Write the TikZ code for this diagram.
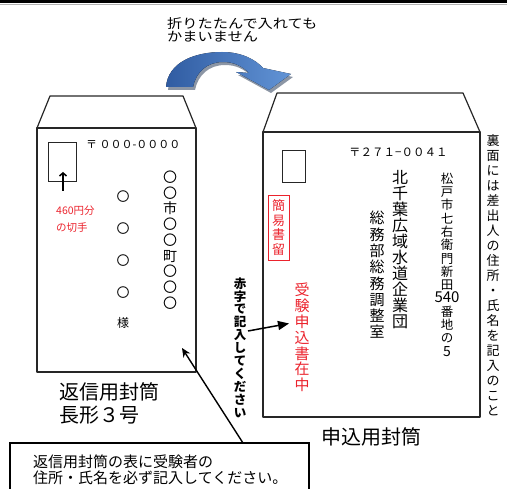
\documentclass[tikz,border=0pt]{standalone}
\usepackage{graphicx}
\usepackage{fontspec}
\setmainfont{Noto Sans CJK JP}
\usetikzlibrary{arrows.meta}
\definecolor{stampred}{RGB}{235,35,45}
\definecolor{arrowdark}{RGB}{48,92,162}
\definecolor{arrowlight}{RGB}{98,148,214}
\definecolor{shadowgrey}{RGB}{140,150,165}
\begin{document}
\begin{tikzpicture}[x=1pt,y=-1pt,
  env/.style={draw=black!85, line width=1.2pt, line join=round},
  vcol/.style={inner sep=0pt, align=center},
  lbl/.style={inner sep=0pt, anchor=west, align=left},
  foldarrow/.style={insert path={(166,87) .. controls (168,62) and (195,52) .. (222,52)
     .. controls (242,52) and (256,60) .. (263,68) -- (291,74) -- (269,90) -- (236,72) -- (249,73)
     .. controls (242,66) and (234,62) .. (223,62) .. controls (207,62) and (196,72) .. (193,87) -- cycle}},
  ]
\useasboundingbox (0,0) rectangle (507,489);
% top bar
\fill[black] (0,0) rectangle (507,3.5);
\draw[gray!60, line width=0.8pt] (0,4.3) -- (507,4.3);

% fold note and arrow
\node[lbl, font=\fontsize{13}{12.5}\selectfont] (fold) at (167,30)
  {\scalebox{1.17}[1]{折りたたんで入れても}\\\scalebox{1.17}[1]{かまいません}};
\fill[shadowgrey, shift={(2,3)}, foldarrow];
\fill[left color=arrowdark, right color=arrowlight, foldarrow];

% ---- left envelope ----
\draw[env] (37,128) -- (50,96) -- (183,96) -- (196,128);
\draw[env] (37,128) rectangle (196,372);
\draw[black!85, line width=1pt] (48,143) rectangle (76,182);
\coordinate (stampLlow) at (63,191);
\coordinate (stampLhigh) at (63,172);
\draw[line width=1.5pt, -{Straight Barb[length=3pt,width=7pt]}] (stampLlow) -- (stampLhigh);
\node[lbl, font=\fontsize{11}{11}\selectfont] (zipL) at (86,144) {〒 ０００-００００};
\node[lbl, text=stampred, font=\fontsize{10.5}{17}\selectfont] (fee) at (56,219.5) {460円分\\の切手};
\node[vcol, font=\fontsize{13}{32}\selectfont] (nameL) at (123,245) {〇\\〇\\〇\\〇};
\node[inner sep=0pt, font=\fontsize{12}{12}\selectfont] (sama) at (123,323) {様};
\node[vcol, font=\fontsize{14}{15.75}\selectfont] (addrL) at (170,240) {〇\\〇\\市\\〇\\〇\\町\\〇\\〇\\〇};
\node[lbl, font=\fontsize{20}{23}\selectfont] (labL) at (59,403) {返信用封筒\\長形３号};

% ---- right envelope ----
\draw[env] (263,132) -- (277,93) -- (463,93) -- (480,132);
\draw[env] (263,132) rectangle (480,417);
\draw[black!85, line width=1pt] (282,151) rectangle (305,183);
\node[lbl, font=\fontsize{11.5}{11.5}\selectfont] (zipR) at (349,152) {〒２７１−００４１};
\node[draw=stampred, line width=0.9pt, minimum width=21pt, minimum height=65pt, inner sep=0pt,
      text=stampred, align=center, font=\fontsize{13}{14.5}\selectfont] (kani) at (278.5,227.5) {簡\\易\\書\\留};
\node[vcol, font=\fontsize{12.5}{13.3}\selectfont] (addrR) at (447,264.5)
  {松\\戸\\市\\七\\右\\衛\\門\\新\\田\\{\fontsize{15}{13.3}\selectfont 540}\\番\\地\\の\\{\fontsize{14}{13.3}\selectfont 5}};
\node[vcol, font=\fontsize{16}{16}\selectfont] (org) at (400,250) {北\\千\\葉\\広\\域\\水\\道\\企\\業\\団};
\node[vcol, font=\fontsize{15}{16.3}\selectfont] (dept) at (377,275) {総\\務\\部\\総\\務\\調\\整\\室};
\node[vcol, text=stampred, font=\fontsize{15}{15.8}\selectfont] (juken) at (302,337.5) {受\\験\\申\\込\\書\\在\\中};
\node[lbl, font=\fontsize{20}{23}\selectfont] (labR) at (321,437) {申込用封筒};

% back note
\node[vcol, font=\fontsize{13}{15}\selectfont] (back) at (493,275)
  {裏\\面\\に\\は\\差\\出\\人\\の\\住\\所\\・\\氏\\名\\を\\記\\入\\の\\こ\\と};

% red ink note and arrow
\node[vcol, font=\bfseries\fontsize{12.5}{12.9}\selectfont] (akaji) at (240,347.5)
  {赤\\字\\で\\記\\入\\し\\て\\く\\だ\\さ\\い};
\coordinate (akajiOut) at (248,331);
\coordinate (jukenIn) at (289,323.5);
\draw[line width=1.5pt, -{Triangle[length=11pt,width=9pt]}] (akajiOut) -- (jukenIn);

% bottom instruction box
\draw[black, line width=1.3pt] (10,495) -- (10,443) -- (309,443) -- (309,495);
\node[lbl, font=\fontsize{15}{16}\selectfont] (instr) at (33,470)
  {返信用封筒の表に受験者の\\住所・氏名を必ず記入してください。};
\coordinate (boxTop) at (243,443);
\coordinate (envLtip) at (182,348);
\draw[line width=1.4pt, -{Stealth[length=9pt,width=8pt]}] (boxTop) -- (envLtip);
\end{tikzpicture}
\end{document}
